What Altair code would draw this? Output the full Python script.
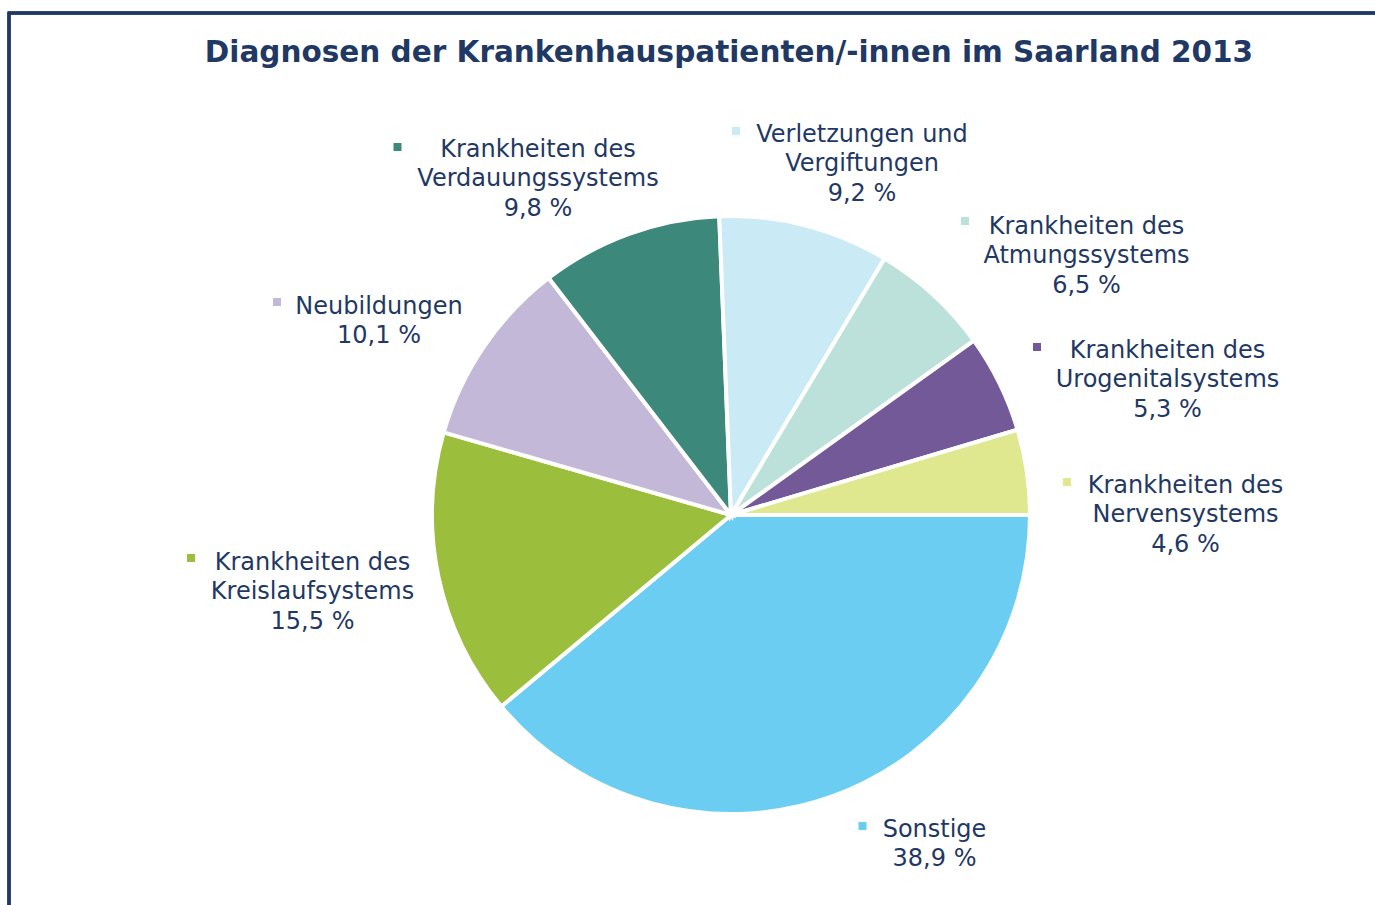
import math
import altair as alt
import pandas as pd

# ---------------- data ----------------
categories = [
    "Sonstige",
    "Krankheiten des Kreislaufsystems",
    "Neubildungen",
    "Krankheiten des Verdauungssystems",
    "Verletzungen und Vergiftungen",
    "Krankheiten des Atmungssystems",
    "Krankheiten des Urogenitalsystems",
    "Krankheiten des Nervensystems",
]
values = [38.9, 15.5, 10.1, 9.8, 9.2, 6.5, 5.3, 4.6]
label_texts = [
    "Sonstige\n38,9 %",
    "Krankheiten des\nKreislaufsystems\n15,5 %",
    "Neubildungen\n10,1 %",
    "Krankheiten des\nVerdauungssystems\n9,8 %",
    "Verletzungen und\nVergiftungen\n9,2 %",
    "Krankheiten des\nAtmungssystems\n6,5 %",
    "Krankheiten des\nUrogenitalsystems\n5,3 %",
    "Krankheiten des\nNervensystems\n4,6 %",
]
colors = ["#6ACDF1", "#9BBE3D", "#C3B8D7", "#3C887A",
          "#CAEAF6", "#BCE1DA", "#735998", "#DFE88F"]

# ---------------- layout (pixels) ----------------
W, H = 1375, 905
CX, CY, R = 731, 515, 297
NAVY = "#1F3864"
FONT = "DejaVu Sans"
# label anchors: centre x of text block, baseline y of first line
label_x = [934.5, 312.5, 379, 538, 862, 1086.5, 1167.5, 1185.5]
label_y = [836.5, 569.5, 313.5, 156.5, 141.5, 233.5, 357.5, 492.5]
# legend-key squares beside the labels
marker_x = [862.5, 191, 277, 397.5, 736, 965, 1037, 1067]
marker_y = [826, 558, 302, 147, 131, 221, 347, 482]

df = pd.DataFrame({
    "category": categories,
    "value": values,
    "order": list(range(len(categories))),
    "label": label_texts,
    "lx": label_x,
    "ly": label_y,
    "mx": marker_x,
    "my": marker_y,
})

color_scale = alt.Scale(domain=categories, range=colors)
start = math.pi / 2

base = alt.Chart(df)

pie = base.mark_arc(outerRadius=R + 2, stroke="white", strokeWidth=4).encode(
    theta=alt.Theta("value:Q", stack=True,
                    scale=alt.Scale(range=[start, start + 2 * math.pi])),
    color=alt.Color("category:N", scale=color_scale, legend=None),
    order=alt.Order("order:Q"),
    x=alt.value(CX),
    y=alt.value(CY),
)

labels = base.mark_text(
    align="center", baseline="alphabetic", lineBreak="\n",
    font=FONT, fontSize=24, lineHeight=29.5, color=NAVY,
).encode(
    x=alt.X("lx:Q", scale=None, axis=None),
    y=alt.Y("ly:Q", scale=None, axis=None),
    text="label:N",
)

markers = base.mark_square(size=64, filled=True, opacity=1, strokeWidth=0).encode(
    x=alt.X("mx:Q", scale=None, axis=None),
    y=alt.Y("my:Q", scale=None, axis=None),
    color=alt.Color("category:N", scale=color_scale, legend=None),
)

frame = base.mark_rect(filled=False, stroke=NAVY, strokeWidth=2.5).encode(
    x=alt.value(9), y=alt.value(13), x2=alt.value(1500), y2=alt.value(1200),
)

chart = alt.layer(frame, pie, markers, labels).properties(
    width=W,
    height=H,
    autosize=alt.AutoSizeParams(type="none"),
    padding=0,
    background="white",
    title=alt.TitleParams(
        text="Diagnosen der Krankenhauspatienten/-innen im Saarland 2013",
        anchor="middle", frame="group", orient="top",
        offset=-91, baseline="alphabetic", dx=729 - W / 2,
        font=FONT, fontSize=29.5, fontWeight="bold", color=NAVY,
    ),
).configure_view(strokeWidth=0)

chart.save("out.html", embed_options={"renderer": "svg", "actions": False})
